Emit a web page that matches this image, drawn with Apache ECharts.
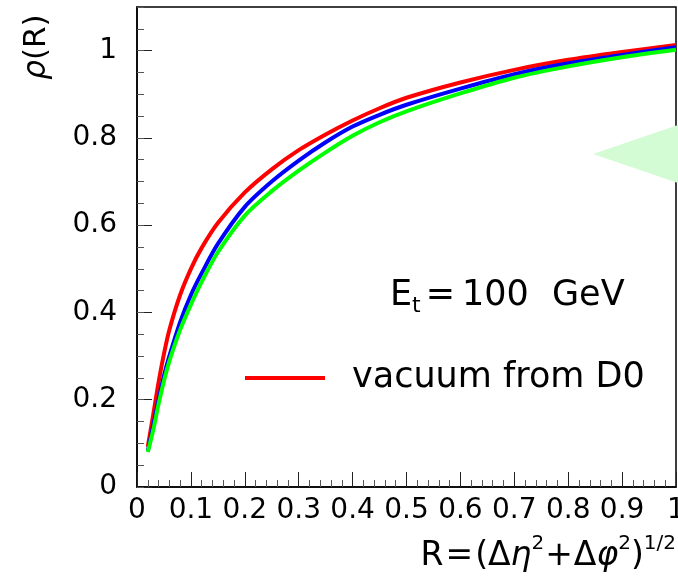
<!DOCTYPE html>
<html>
<head>
<meta charset="utf-8">
<script src="https://cdn.jsdelivr.net/npm/echarts@6/dist/echarts.min.js"></script>
<style>html,body{margin:0;padding:0;background:#fff;}#c{width:678px;height:583px;}</style>
</head>
<body>
<div id="c"></div>
<script>
// R values
const rValues = [0.02,0.03,0.04,0.05,0.06,0.08,0.10,0.12,0.15,0.20,0.25,0.30,0.35,0.40,0.45,0.50,0.60,0.70,0.80,0.90,1.00];
// vacuum from D0 (red)
const rhoVacuum = [0.092,0.165,0.24,0.305,0.36,0.44,0.50,0.548,0.605,0.675,0.728,0.772,0.808,0.84,0.868,0.892,0.927,0.956,0.979,0.997,1.013];
// blue curve
const rhoBlue = [0.082,0.14,0.20,0.255,0.30,0.378,0.44,0.49,0.557,0.642,0.70,0.748,0.79,0.826,0.853,0.876,0.913,0.946,0.971,0.99,1.008];
// green curve
const rhoGreen = [0.08,0.13,0.19,0.243,0.288,0.36,0.418,0.47,0.538,0.622,0.678,0.725,0.767,0.805,0.836,0.861,0.902,0.938,0.964,0.985,1.002];
const xTicks = {min:0, max:1, interval:0.1};
const yTicks = {min:0, max:1.1, interval:0.2, minor:0.05};

const pair = (xs, ys) => xs.map((x,i)=>[x, ys[i]]);
const FONT = 'DejaVu Sans';

const chart = echarts.init(document.getElementById('c'), null, {renderer:'canvas'});
chart.setOption({
  animation:false,
  backgroundColor:'#fff',
  grid:{left:137, right:2, top:7, bottom:96, outerBoundsMode:'none', containLabel:false, show:true, borderColor:'#000', borderWidth:1.5, backgroundColor:'transparent'},
  xAxis:{
    type:'value', min:xTicks.min, max:xTicks.max, interval:xTicks.interval,
    axisLine:{show:true, onZero:false, lineStyle:{color:'#000', width:1.5}},
    axisTick:{show:true, inside:true, length:15, lineStyle:{color:'#222', width:1}},
    minorTick:{show:true, splitNumber:5, length:7, lineStyle:{color:'#555', width:1}},
    splitLine:{show:false},
    axisLabel:{fontFamily:FONT, fontSize:28, color:'#000', margin:10}
  },
  yAxis:[{
    type:'value', min:yTicks.min, max:yTicks.max, interval:yTicks.interval,
    axisLine:{show:true, onZero:false, lineStyle:{color:'#000', width:1.5}},
    axisTick:{show:true, inside:true, length:15, lineStyle:{color:'#222', width:1}},
    splitLine:{show:false},
    axisLabel:{fontFamily:FONT, fontSize:28, color:'#000', margin:20, showMaxLabel:false}
  },{
    type:'value', min:yTicks.min, max:yTicks.max, interval:yTicks.minor, position:'left',
    axisLine:{show:false},
    axisTick:{show:true, inside:true, length:7, lineStyle:{color:'#555', width:1}},
    splitLine:{show:false},
    axisLabel:{show:false}
  }],
  legend:{
    data:['vacuum from D0'], left:245, top:358, padding:0,
    icon:'rect', itemWidth:80, itemHeight:4, itemGap:0,
    textStyle:{fontFamily:FONT, fontSize:35, color:'#000', padding:[0,0,0,22], lineHeight:40}
  },
  series:[
    {name:'vacuum from D0', type:'line', data:pair(rValues, rhoVacuum), showSymbol:false, symbol:'none', smooth:0.3, lineStyle:{color:'#ff0000', width:4}, itemStyle:{color:'#ff0000'}, z:2},
    {name:'blue', type:'line', data:pair(rValues, rhoBlue), showSymbol:false, symbol:'none', smooth:0.3, lineStyle:{color:'#0000ff', width:4}, itemStyle:{color:'#0000ff'}, z:3},
    {name:'green', type:'line', data:pair(rValues, rhoGreen), showSymbol:false, symbol:'none', smooth:0.3, lineStyle:{color:'#00ff00', width:4}, itemStyle:{color:'#00ff00'}, z:4}
  ],
  graphic:[
    {type:'text', x:37, y:47, rotation:Math.PI/2, z:10,
     style:{text:'{i|ρ}{n|(R)}', align:'center', verticalAlign:'middle',
       rich:{i:{fontFamily:FONT, fontSize:31, fontStyle:'italic', fill:'#000'}, n:{fontFamily:FONT, fontSize:31, fill:'#000'}}}},
    {type:'text', x:676, y:556, z:10,
     style:{text:'{n|R}{e|=}{n|(Δ}{i|η}{s|2}{p|+}{n|Δ}{i|φ}{s|2}{n|)}{s|1/2}', align:'right', verticalAlign:'middle',
       rich:{
         n:{fontFamily:FONT, fontSize:33, fill:'#000', lineHeight:44},
         e:{fontFamily:FONT, fontSize:33, fill:'#000', lineHeight:44, padding:[0,2,0,2]},
         p:{fontFamily:FONT, fontSize:33, fill:'#000', lineHeight:44, padding:[0,1,0,1]},
         i:{fontFamily:FONT, fontSize:33, fontStyle:'italic', fill:'#000', lineHeight:44},
         s:{fontFamily:FONT, fontSize:20, fill:'#000', verticalAlign:'top', lineHeight:26}
       }}},
    {type:'text', x:390, y:296, z:10,
     style:{text:'{n|E}{t|t}{e|=}{d|100}{g| GeV}', align:'left', verticalAlign:'middle',
       rich:{
         n:{fontFamily:FONT, fontSize:35, fill:'#000', lineHeight:42},
         t:{fontFamily:FONT, fontSize:22, fill:'#000', verticalAlign:'bottom', lineHeight:24},
         e:{fontFamily:FONT, fontSize:35, fill:'#000', lineHeight:42, padding:[0,5,0,5]},
         d:{fontFamily:FONT, fontSize:35, fill:'#000', lineHeight:42, padding:[0,0,0,2]},
         g:{fontFamily:FONT, fontSize:35, fill:'#000', lineHeight:42, padding:[0,0,0,12]}
       }}},
    {type:'polygon', z:20, shape:{points:[[593,154],[678,125],[678,183]]}, style:{fill:'#d4fcd4'}}
  ]
});
</script>
</body>
</html>
